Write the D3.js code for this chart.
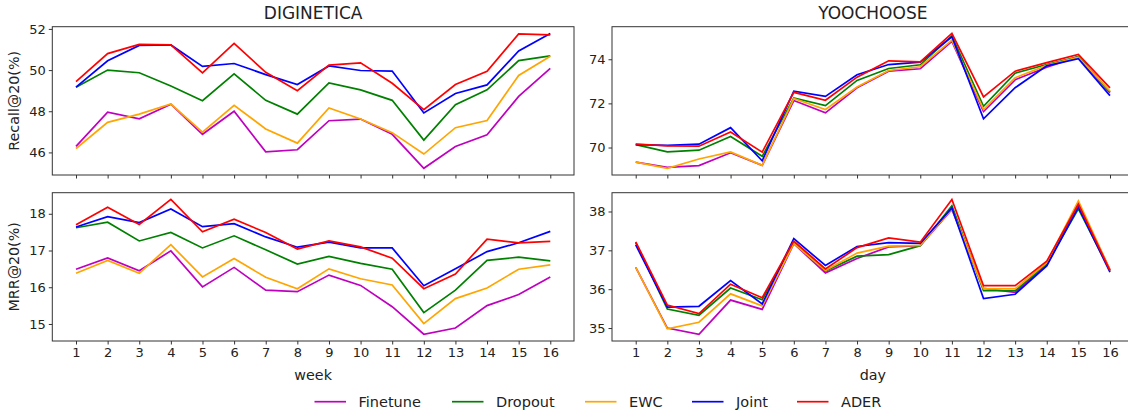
<!DOCTYPE html>
<html>
<head>
<meta charset="utf-8">
<script src="https://cdn.jsdelivr.net/npm/d3@7"></script>
<style>
  body { margin: 0; background: #fff; }
  svg text { font-family: "DejaVu Sans", sans-serif; fill: #222; }
</style>
</head>
<body>
<div id="chart"></div>
<script>
var steps = d3.range(1, 17);
var methods = ["Finetune", "Dropout", "EWC", "Joint", "ADER"];
var colors = ["#bf00bf", "#008000", "#ffa500", "#0000ff", "#ff0000"];

// DIGINETICA, Recall@20
var digRecall = [
    [46.29, 47.95, 47.63, 48.34, 46.88, 48.0, 46.03, 46.13, 47.54, 47.62, 46.88, 45.23, 46.29, 46.86, 48.72, 50.08],
    [49.17, 50.0, 49.87, 49.23, 48.51, 49.82, 48.53, 47.86, 49.38, 49.04, 48.53, 46.6, 48.32, 49.04, 50.46, 50.69],
    [46.19, 47.46, 47.86, 48.35, 46.98, 48.29, 47.14, 46.45, 48.16, 47.62, 46.96, 45.92, 47.2, 47.55, 49.74, 50.67],
    [49.17, 50.45, 51.2, 51.22, 50.18, 50.32, 49.78, 49.3, 50.2, 49.98, 49.95, 47.92, 48.86, 49.28, 50.93, 51.78],
    [49.44, 50.8, 51.25, 51.22, 49.86, 51.3, 49.89, 49.0, 50.24, 50.35, 49.36, 48.08, 49.3, 49.94, 51.76, 51.71]
];
// YOOCHOOSE, Recall@20
var yooRecall = [
    [69.34, 69.1, 69.18, 69.76, 69.19, 72.13, 71.57, 72.71, 73.46, 73.57, 74.81, 71.63, 73.07, 73.64, 74.12, 72.49],
    [70.13, 69.8, 69.88, 70.5, 69.6, 72.25, 71.9, 73.04, 73.58, 73.75, 75.06, 71.87, 73.37, 73.76, 74.12, 72.52],
    [69.34, 69.06, 69.48, 69.8, 69.19, 72.22, 71.72, 72.74, 73.49, 73.66, 74.87, 71.72, 73.16, 73.72, 74.09, 72.55],
    [70.13, 70.1, 70.15, 70.9, 69.4, 72.55, 72.32, 73.3, 73.76, 73.87, 75.02, 71.3, 72.71, 73.7, 74.03, 72.35],
    [70.16, 70.07, 70.06, 70.7, 69.79, 72.5, 72.14, 73.19, 73.93, 73.88, 75.17, 72.29, 73.46, 73.85, 74.22, 72.7]
];
// DIGINETICA, MRR@20
var digMrr = [
    [16.49, 16.8, 16.45, 16.99, 16.01, 16.54, 15.92, 15.88, 16.33, 16.05, 15.47, 14.72, 14.89, 15.5, 15.8, 16.28],
    [17.62, 17.77, 17.26, 17.49, 17.07, 17.4, 17.02, 16.63, 16.84, 16.65, 16.49, 15.31, 15.92, 16.73, 16.82, 16.72],
    [16.38, 16.73, 16.38, 17.16, 16.28, 16.78, 16.27, 15.96, 16.5, 16.23, 16.06, 15.01, 15.69, 15.98, 16.49, 16.61],
    [17.64, 17.92, 17.76, 18.13, 17.65, 17.73, 17.37, 17.09, 17.23, 17.07, 17.07, 16.04, 16.5, 16.97, 17.21, 17.52],
    [17.7, 18.18, 17.71, 18.39, 17.51, 17.85, 17.49, 17.04, 17.26, 17.1, 16.79, 15.96, 16.36, 17.31, 17.21, 17.25]
];
// YOOCHOOSE, MRR@20
var yooMrr = [
    [36.56, 35.0, 34.84, 35.72, 35.48, 37.17, 36.42, 36.79, 37.09, 37.12, 38.05, 36.02, 35.92, 36.62, 38.2, 36.5],
    [37.2, 35.49, 35.33, 36.03, 35.73, 37.2, 36.47, 36.85, 36.89, 37.12, 38.15, 35.96, 35.96, 36.65, 38.07, 36.48],
    [36.56, 34.98, 35.15, 35.88, 35.57, 37.18, 36.48, 36.93, 37.11, 37.13, 38.07, 36.01, 36.01, 36.68, 38.27, 36.5],
    [37.14, 35.54, 35.56, 36.22, 35.62, 37.3, 36.61, 37.1, 37.2, 37.18, 38.09, 35.76, 35.87, 36.6, 38.11, 36.44],
    [37.22, 35.59, 35.37, 36.13, 35.78, 37.24, 36.52, 37.07, 37.32, 37.21, 38.31, 36.09, 36.09, 36.72, 38.19, 36.48]
];

var recallTicks = [46, 48, 50, 52];
var yooRecallTicks = [70, 72, 74];
var mrrTicks = [15, 16, 17, 18];
var yooMrrTicks = [35, 36, 37, 38];

var W = 1128, H = 412;
var svg = d3.select("#chart").append("svg")
    .attr("width", W)
    .attr("height", H);

var colX = [52.3, 612];
var panelW = 521.7;
var rowY = [26.7, 192.7];
var panelH = 148.3;

var panels = [
    { data: digRecall, ticks: recallTicks, col: 0, row: 0, title: "DIGINETICA", ylabel: "Recall@20(%)" },
    { data: yooRecall, ticks: yooRecallTicks, col: 1, row: 0, title: "YOOCHOOSE" },
    { data: digMrr, ticks: mrrTicks, col: 0, row: 1, ylabel: "MRR@20(%)", xlabel: "week" },
    { data: yooMrr, ticks: yooMrrTicks, col: 1, row: 1, xlabel: "day" }
];

panels.forEach(function (p) {
    var x0 = colX[p.col], y0 = rowY[p.row];
    var x = d3.scaleLinear().domain([0.25, 16.75]).range([x0, x0 + panelW]);
    var all = d3.merge(p.data);
    var lo = d3.min(all), hi = d3.max(all), pad = (hi - lo) * 0.05;
    var y = d3.scaleLinear().domain([lo - pad, hi + pad]).range([y0 + panelH, y0]);

    var g = svg.append("g");

    var line = d3.line()
        .x(function (d, i) { return x(steps[i]); })
        .y(function (d) { return y(d); });

    g.selectAll(".series")
        .data(p.data)
        .enter()
        .append("path")
        .attr("d", line)
        .attr("fill", "none")
        .attr("stroke", function (d, i) { return colors[i]; })
        .attr("stroke-width", 1.7)
        .attr("stroke-linejoin", "miter");

    // frame
    g.append("rect")
        .attr("x", x0).attr("y", y0)
        .attr("width", panelW).attr("height", panelH)
        .attr("fill", "none")
        .attr("stroke", "#333")
        .attr("stroke-width", 1);

    var xAxis = g.append("g")
        .attr("transform", "translate(0," + (y0 + panelH) + ")")
        .call(d3.axisBottom(x).tickValues(steps).tickSizeOuter(0).tickSize(3.5).tickPadding(3.5)
            .tickFormat(p.row === 1 ? d3.format("d") : ""));
    xAxis.select(".domain").remove();
    xAxis.selectAll("text").style("font-size", "13px").attr("fill", "#222");
    xAxis.selectAll("line").attr("stroke", "#333");

    var yAxis = g.append("g")
        .attr("transform", "translate(" + x0 + ",0)")
        .call(d3.axisLeft(y).tickValues(p.ticks).tickSizeOuter(0).tickSize(3.5).tickPadding(3)
            .tickFormat(d3.format("d")));
    yAxis.select(".domain").remove();
    yAxis.selectAll("text").style("font-size", "13px").attr("fill", "#222");
    yAxis.selectAll("line").attr("stroke", "#333");

    if (p.title) {
        g.append("text")
            .attr("x", x0 + panelW / 2)
            .attr("y", 19.3)
            .attr("text-anchor", "middle")
            .style("font-size", "17px")
            .text(p.title);
    }
    if (p.ylabel) {
        g.append("text")
            .attr("transform", "translate(19," + (y0 + panelH / 2) + ") rotate(-90)")
            .attr("text-anchor", "middle")
            .style("font-size", "14.3px")
            .text(p.ylabel);
    }
    if (p.xlabel) {
        g.append("text")
            .attr("x", x0 + panelW / 2)
            .attr("y", 380)
            .attr("text-anchor", "middle")
            .style("font-size", "14.3px")
            .text(p.xlabel);
    }
});

// legend
var legendX = [314.5, 452, 585, 692, 797];
var legend = svg.append("g").selectAll(".item")
    .data(methods)
    .enter()
    .append("g")
    .attr("transform", function (d, i) { return "translate(" + legendX[i] + ",401.7)"; });

legend.append("line")
    .attr("x1", 0).attr("x2", 31.5)
    .attr("stroke", function (d, i) { return colors[i]; })
    .attr("stroke-width", 1.7);

legend.append("text")
    .attr("x", 44)
    .attr("dy", "0.35em")
    .style("font-size", "14.5px")
    .text(function (d) { return d; });
</script>
</body>
</html>
